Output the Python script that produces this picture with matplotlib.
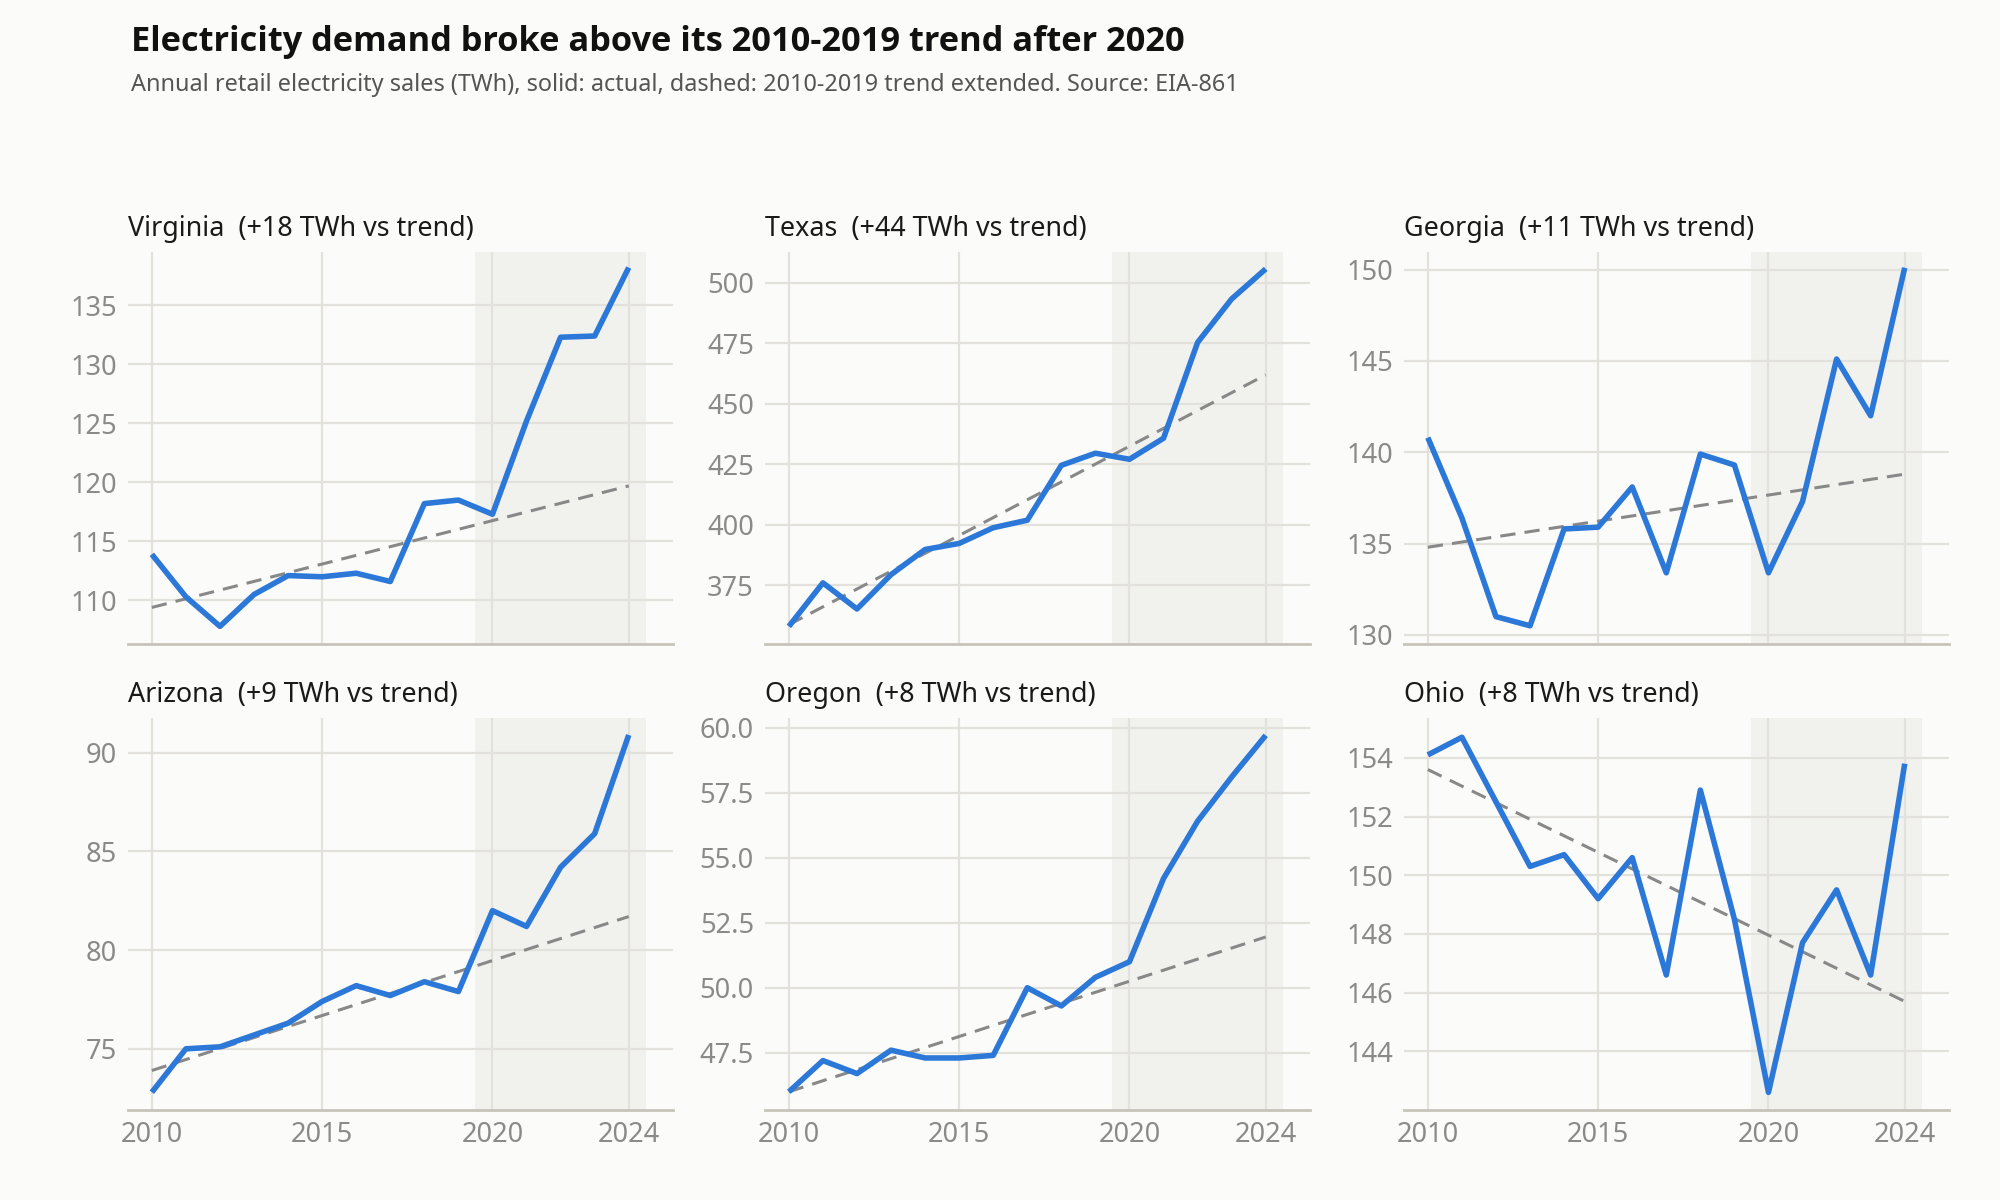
import matplotlib
matplotlib.use("Agg")
import matplotlib.pyplot as plt
import numpy as np

years = list(range(2010, 2025))

states = ["Virginia", "Texas", "Georgia", "Arizona", "Oregon", "Ohio"]
gaps = ["+18", "+44", "+11", "+9", "+8", "+8"]

virginia = [113.9, 110.3, 107.8, 110.5, 112.1, 112.0, 112.3, 111.6, 118.2, 118.5, 117.3, 125.2, 132.3, 132.4, 138.2]
texas = [358.0, 376.0, 365.2, 379.4, 389.8, 392.3, 398.8, 401.9, 424.6, 429.6, 427.1, 435.8, 475.4, 493.4, 505.8]
georgia = [140.8, 136.4, 131.0, 130.5, 135.8, 135.9, 138.1, 133.4, 139.9, 139.3, 133.4, 137.3, 145.1, 142.0, 150.1]
arizona = [72.8, 75.0, 75.1, 75.7, 76.3, 77.4, 78.2, 77.7, 78.4, 77.9, 82.0, 81.2, 84.2, 85.9, 90.9]
oregon = [46.0, 47.2, 46.7, 47.6, 47.3, 47.3, 47.4, 50.0, 49.3, 50.4, 51.0, 54.2, 56.4, 58.1, 59.7]
ohio = [154.1, 154.7, 152.5, 150.3, 150.7, 149.2, 150.6, 146.6, 152.9, 148.5, 142.6, 147.7, 149.5, 146.6, 153.8]
series = [virginia, texas, georgia, arizona, oregon, ohio]

# 2010-2019 trend extended, values read at 2010 and 2024
trend_2010 = [109.4, 358.7, 134.8, 73.9, 46.0, 153.6]
trend_2024 = [119.7, 462.0, 138.8, 81.7, 51.95, 145.7]

yticks = [
    [110, 115, 120, 125, 130, 135],
    [375, 400, 425, 450, 475, 500],
    [130, 135, 140, 145, 150],
    [75, 80, 85, 90],
    [47.5, 50.0, 52.5, 55.0, 57.5, 60.0],
    [144, 146, 148, 150, 152, 154],
]
ylims = [(106.3, 139.5), (350.7, 512.7), (129.5, 150.95), (71.9, 91.75), (45.3, 60.36), (142.0, 155.35)]
xticks = [2010, 2015, 2020, 2024]

FONT = ["Noto Sans", "DejaVu Sans"]
plt.rcParams["font.family"] = FONT

BG = "#fbfbf9"
BLUE = "#2b78d8"
GRID = "#e3e1db"
SHADE = "#f1f1ed"
SPINE = "#c6c4ba"
TICK = "#8a8a8a"

fig = plt.figure(figsize=(10, 6), dpi=200, facecolor=BG)

lefts = [0.064, 0.3825, 0.702]
bottoms = [0.4633, 0.075]
W, H = 0.2725, 0.3265

for i, (st, vals) in enumerate(zip(states, series)):
    r, c = divmod(i, 3)
    ax = fig.add_axes([lefts[c], bottoms[r], W, H])
    ax.set_facecolor(BG)
    ax.axvspan(2019.5, 2024.5, color=SHADE, zorder=0, lw=0)
    ax.plot([2010, 2024], [trend_2010[i], trend_2024[i]], color="#888888", lw=1.1,
            dashes=(5, 3), zorder=3)
    ax.plot(years, vals, color=BLUE, lw=2.0, zorder=4, solid_capstyle="butt")
    ax.set_xlim(2009.3, 2025.3)
    ax.set_ylim(*ylims[i])
    ax.set_yticks(yticks[i])
    ax.set_xticks(xticks)
    ax.grid(True, color=GRID, lw=0.8, zorder=1)
    ax.set_axisbelow(True)
    for s in ["top", "right", "left"]:
        ax.spines[s].set_visible(False)
    ax.spines["bottom"].set_color(SPINE)
    ax.spines["bottom"].set_linewidth(1.0)
    ax.tick_params(length=0, colors=TICK, labelsize=9.8, pad=4)
    if r == 0:
        ax.tick_params(labelbottom=False)
    ax.set_title(f"{st}  ({gaps[i]} TWh vs trend)", loc="left", fontsize=9.7,
                 color="#1a1a1a", pad=6)

fig.text(0.0655, 0.965, "Electricity demand broke above its 2010-2019 trend after 2020",
         fontsize=12.4, fontweight="bold", family=["Open Sans", "DejaVu Sans"],
         color="#111111", va="center", ha="left")
fig.text(0.0655, 0.929,
         "Annual retail electricity sales (TWh), solid: actual, dashed: 2010-2019 trend extended. Source: EIA-861",
         fontsize=8.45, color="#555555", va="center", ha="left")

fig.savefig("out.png", dpi=200, facecolor=BG)
